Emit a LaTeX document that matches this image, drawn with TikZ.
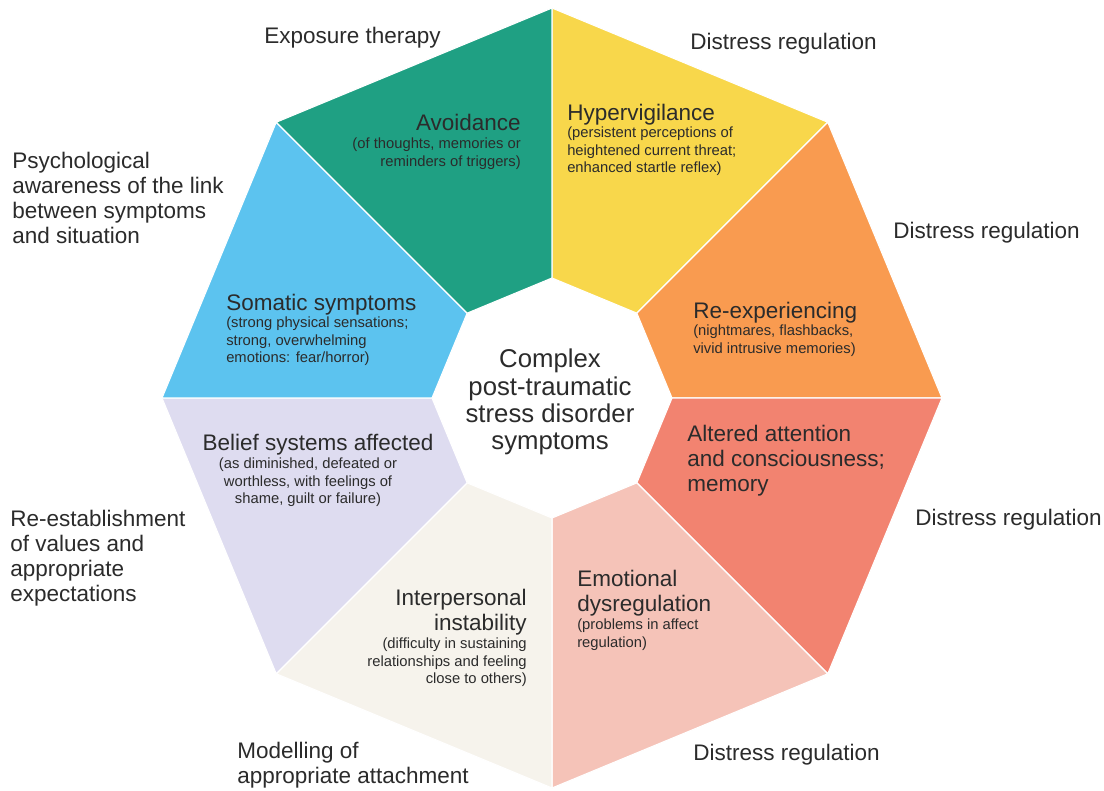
\documentclass[tikz,border=0pt]{standalone}
\usepackage{fontspec}
\setmainfont{Liberation Sans}
\usepackage{xcolor}

\definecolor{segGreen}{HTML}{1FA083}
\definecolor{segYellow}{HTML}{F8D74B}
\definecolor{segOrange}{HTML}{F99B50}
\definecolor{segRed}{HTML}{F28370}
\definecolor{segPink}{HTML}{F5C3B8}
\definecolor{segCream}{HTML}{F6F3EC}
\definecolor{segLilac}{HTML}{DEDCF0}
\definecolor{segBlue}{HTML}{5CC3EF}
\definecolor{txtDark}{HTML}{2B2B2B}

\tikzset{
  outerlbl/.style={font=\fontsize{16}{17.8}\selectfont, text=txtDark, inner sep=0pt, align=left},
  segtitle/.style={font=\fontsize{16}{17.8}\selectfont, text=txtDark, inner sep=0pt},
  segsub/.style={font=\fontsize{10.5}{12.2}\selectfont, text=txtDark, inner sep=0pt},
}

\begin{document}
\begin{tikzpicture}[x=0.025cm, y=-0.025cm]
\useasboundingbox[fill=white] (0,0) rectangle (1104,790);

% Ecken: aussen und innen
\coordinate (c) at (552,398);
\foreach \i in {0,...,7} {
  \path (c) ++({-90+45*\i}:390) coordinate (o\i);
  \path (c) ++({-90+45*\i}:120) coordinate (n\i);
}

% Segmente
\foreach \i/\col in {0/segYellow,1/segOrange,2/segRed,3/segPink,4/segCream,5/segLilac,6/segBlue,7/segGreen} {
  \pgfmathtruncatemacro{\j}{mod(\i+1,8)}
  \fill[\col, draw=white, line width=0.8pt, line join=round] (o\i) -- (o\j) -- (n\j) -- (n\i) -- cycle;
}

% Mitte
\node[font=\fontsize{18.3}{19.4}\selectfont, text=txtDark, inner sep=0pt, align=center, anchor=north]
  (core) at (550,349) {Complex\\post-traumatic\\stress disorder\\symptoms};

% Symptome
\node[segtitle, anchor=north east] (avoid) at (521,114) {Avoidance};
\node[segsub, anchor=north east, align=right] (avoidSub) at (521,138) {(of thoughts, memories or\\reminders of triggers)};

\node[segtitle, anchor=north west] (hyper) at (567,104) {Hypervigilance};
\node[segsub, anchor=north west, align=left] (hyperSub) at (567,127) {(persistent perceptions of\\heightened current threat;\\enhanced startle reflex)};

\node[segtitle, anchor=north west] (reexp) at (693,302) {Re-experiencing};
\node[segsub, anchor=north west, align=left] (reexpSub) at (693,325) {(nightmares, flashbacks,\\vivid intrusive memories)};

\node[segtitle, anchor=north west, align=left] (alter) at (687,425) {Altered attention\\and consciousness;\\memory};

\node[segtitle, anchor=north west, align=left] (emot) at (577,570) {Emotional\\dysregulation};
\node[segsub, anchor=north west, align=left] (emotSub) at (577,619) {(problems in affect\\regulation)};

\node[segtitle, anchor=north east, align=right] (inter) at (527,589) {Interpersonal\\instability};
\node[segsub, anchor=north east, align=right] (interSub) at (527,638) {(difficulty in sustaining\\relationships and feeling\\close to others)};

\node[segtitle, anchor=north] (belief) at (318,434) {Belief systems affected};
\node[segsub, anchor=north, align=center] (beliefSub) at (308,458) {(as diminished, defeated or\\worthless, with feelings of\\shame, guilt or failure)};

\node[segtitle, anchor=north west] (soma) at (226,294) {Somatic symptoms};
\node[segsub, anchor=north west, align=left] (somaSub) at (226,317) {(strong physical sensations;\\strong, overwhelming\\emotions: fear/horror)};

% Behandlung aussen
\node[outerlbl, anchor=north west] (expo) at (264,27) {Exposure therapy};
\node[outerlbl, anchor=north west] (distA) at (690,33) {Distress regulation};
\node[outerlbl, anchor=north west] (distB) at (893,222) {Distress regulation};
\node[outerlbl, anchor=north west] (distC) at (915,509) {Distress regulation};
\node[outerlbl, anchor=north west] (distD) at (693,744) {Distress regulation};
\node[outerlbl, anchor=north west] (psych) at (12,152) {Psychological\\awareness of the link\\between symptoms\\and situation};
\node[outerlbl, anchor=north west] (reest) at (10,510) {Re-establishment\\of values and\\appropriate\\expectations};
\node[outerlbl, anchor=north west] (model) at (237,742) {Modelling of\\appropriate attachment};

\end{tikzpicture}
\end{document}
